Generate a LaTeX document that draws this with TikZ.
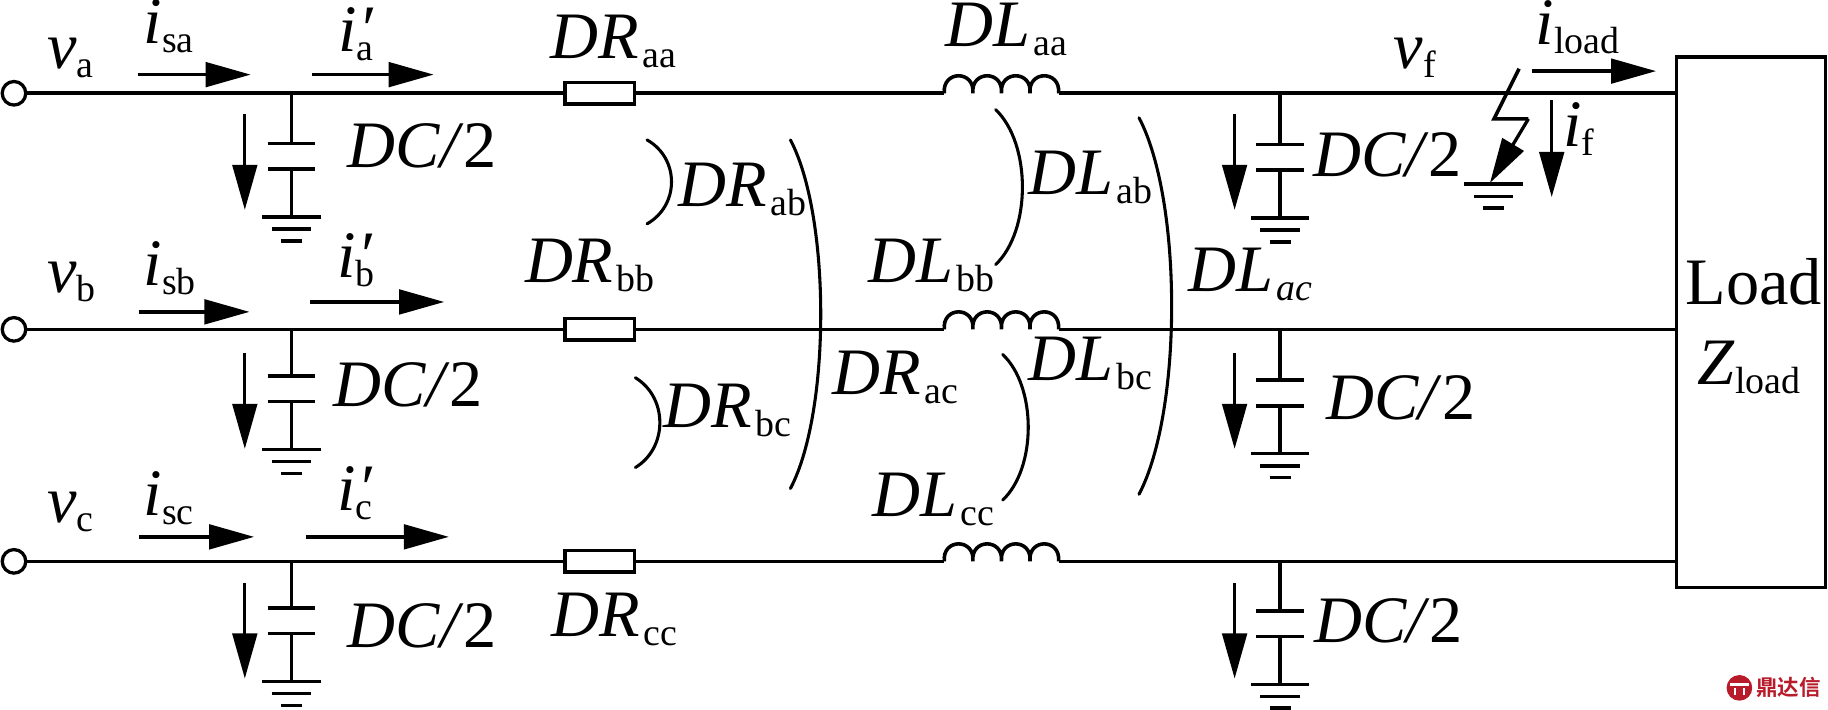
\documentclass[tikz,border=0pt]{standalone}
\usepackage{fontspec}
\setmainfont{Liberation Serif}
\newfontfamily\cjk{Noto Sans CJK SC}[BoldFont={* Bold}]
\usetikzlibrary{arrows.meta}
\definecolor{logored}{HTML}{B81C2B}
\tikzset{
  wire/.style={draw=black, line width=1.75pt},
  bowline/.style={draw=black, line width=1.5pt, line cap=round},
  flow/.style={draw=black, line width=1.6pt, -{Triangle[length=22pt,width=12pt]}},
  term/.style={circle, draw=black, fill=white, line width=1.6pt, inner sep=0pt, minimum size=11.5pt},
  res/.style={rectangle, draw=black, fill=white, line width=1.7pt, inner sep=0pt, minimum width=34pt, minimum height=10.5pt},
  lab/.style={anchor=base west, inner sep=0pt, font=\fontsize{32.4}{34}\selectfont}
}
\newcommand{\Sb}[1]{\raisebox{-4.4pt}{\fontsize{18.5}{19}\selectfont #1}}
\newcommand{\Sy}[2]{\textit{#1}\Sb{#2}}
\newcommand{\Dy}[2]{\textit{#1}\kern1.5pt\Sb{#2}}
\newcommand{\SyP}[1]{\textit{i}\rlap{\kern1pt\textit{′}}\Sb{#1}}
\newcommand{\Half}{\textit{DC/}2}
% #1 = x, #2 = y
\newcommand{\Gnd}[2]{%
  \draw[wire] (#1-25,#2) -- (#1+25,#2);
  \draw[wire] (#1-17,#2+10.5) -- (#1+17,#2+10.5);
  \draw[wire] (#1-9,#2+20.5) -- (#1+9,#2+20.5);
}
% #1 = x, #2 = y of the line, #3 = y the plates hang from, #4 = x of the arrow, #5 = y of the arrow
\newcommand{\Shunt}[5]{%
  \draw[wire] (#1,#2) -- (#1,#3+40);
  \draw[wire] (#1-20.5,#3+40) -- (#1+20.5,#3+40);
  \draw[wire] (#1-20.5,#3+62) -- (#1+20.5,#3+62);
  \draw[wire] (#1,#3+62) -- (#1,#3+103);
  \Gnd{#1}{#3+103}
  \draw[flow] (#4,#5) -- (#4,#5+82);
}
% #1 = x at the ends, #2 = top, #3 = bottom, #4 = bulge
\newcommand{\Bow}[4]{%
  \draw[bowline] (#1,#2) .. controls (#1+1.333*#4,#2+0.22*#3-0.22*#2) and (#1+1.333*#4,#3-0.22*#3+0.22*#2) .. (#1,#3);
}

\begin{document}
\begin{tikzpicture}[x=0.02cm, y=-0.02cm, line cap=butt, line join=miter]
  \useasboundingbox (0,0) rectangle (1568,609);
  \node[draw=black, line width=1.75pt, minimum width=72.8pt, minimum height=259pt, inner sep=0pt] (load) at (1502,276.5) {};
  % the three lines
  \foreach \ph/\yy/\capL/\capR/\arrY in {a/80/83/84/98, b/282.5/282.5/286/303, c/481.5/481.5/484/500} {
    \node[term] (v\ph) at (12,\yy) {};
    \node[res] (R\ph) at (514.5,\yy) {};
    \coordinate (L\ph) at (810,\yy);
    \coordinate (M\ph) at (908,\yy);
    \coordinate (E\ph) at (1437,\yy);
    \draw[wire] (v\ph) -- (R\ph);
    \draw[wire] (R\ph) -- (L\ph);
    \draw[wire] (M\ph) -- (E\ph);
    \draw[wire] (L\ph) .. controls +(-2,-20) and +(2,-20) .. ++(24.5,0)
      .. controls +(-2,-20) and +(2,-20) .. ++(24.5,0)
      .. controls +(-2,-20) and +(2,-20) .. ++(24.5,0)
      .. controls +(-2,-20) and +(2,-20) .. ++(24.5,0);
    \Shunt{250}{\yy}{\capL}{210}{\arrY}
    \Shunt{1098}{\yy}{\capR}{1059}{\arrY}
  }
  % coupling marks
  \Bow{555}{120}{192}{21}
  \Bow{678}{120}{419}{26}
  \Bow{545}{324}{401}{21}
  \Bow{854}{94}{227}{23}
  \Bow{977}{101}{424}{28}
  \Bow{860}{304}{429}{22}
  % fault
  \coordinate (Fa) at (1303,59);
  \coordinate (Fb) at (1281.5,102);
  \coordinate (Fc) at (1311,102);
  \coordinate (Fd) at (1278,157);
  \draw[wire] (Fa) -- (Fb) -- (Fc);
  \draw[flow] (Fc) -- (Fd);
  \Gnd{1281}{158}
  % current arrows
  \draw[flow] (118,64) -- (215,64);
  \draw[flow] (268,64) -- (372,64);
  \draw[flow] (119,267.5) -- (214,267.5);
  \draw[flow] (266,259) -- (381,259);
  \draw[flow] (119.5,460.5) -- (218,460.5);
  \draw[flow] (262.5,460.5) -- (385,460.5);
  \draw[flow] (1314,61) -- (1420.5,61);
  \draw[flow] (1331,86) -- (1331,169);
  % labels
  \node[lab] (lva) at (40,59) {\Sy{v}{a}};
  \node[lab] (lvb) at (40,251) {\Sy{v}{b}};
  \node[lab] (lvc) at (40,448) {\Sy{v}{c}};
  \node[lab] (lisa) at (123,37) {\Sy{i}{sa}};
  \node[lab] (lisb) at (123,245) {\Sy{i}{sb}};
  \node[lab] (lisc) at (123,442.5) {\Sy{i}{sc}};
  \node[lab] (lipa) at (290,44) {\SyP{a}};
  \node[lab] (lipb) at (289,238) {\SyP{b}};
  \node[lab] (lipc) at (289,438) {\SyP{c}};
  \node[lab] (lraa) at (472,50) {\Dy{DR}{aa}};
  \node[lab] (lrbb) at (450,242) {\Dy{DR}{bb}};
  \node[lab] (lrcc) at (473,546) {\Dy{DR}{cc}};
  \node[lab] (lrab) at (582,177) {\Dy{DR}{ab}};
  \node[lab] (lrac) at (714,338) {\Dy{DR}{ac}};
  \node[lab] (lrbc) at (569,367) {\Dy{DR}{bc}};
  \node[lab] (llaa) at (810.5,39.5) {\Dy{DL}{aa}};
  \node[lab] (llbb) at (745,242) {\Dy{DL}{bb}};
  \node[lab] (llcc) at (748,443) {\Dy{DL}{cc}};
  \node[lab] (llab) at (882,167) {\Dy{DL}{ab}};
  \node[lab] (llbc) at (882,326) {\Dy{DL}{bc}};
  \node[lab] (llac) at (1019,250) {\Dy{DL}{\textit{ac}}};
  \node[lab] (lca) at (298,144) {\Half};
  \node[lab] (lcb) at (286,349) {\Half};
  \node[lab] (lcc) at (298,555) {\Half};
  \node[lab] (lcf) at (1126,151.5) {\Half};
  \node[lab] (lcg) at (1137.5,360) {\Half};
  \node[lab] (lch) at (1127,551) {\Half};
  \node[lab] (lvf) at (1195,58.5) {\Sy{v}{f}};
  \node[lab] (lil) at (1317,38) {\Sy{i}{load}};
  \node[lab] (lif) at (1340.5,126) {\Sy{i}{f}};
  \node[lab] (lload) at (1445.5,261.5) {Load};
  \node[lab] (lz) at (1456,330) {\Sy{Z}{load}};
  % logo in the corner
  \fill[logored] (1492,590) circle (11);
  \fill[white] (1484,586) rectangle (1500,588);
  \fill[white] (1487,590) rectangle (1489,596);
  \fill[white] (1495,590) rectangle (1497,596);
  \node[anchor=west, inner sep=0pt, text=logored, font=\cjk\bfseries\fontsize{10.5}{11}\selectfont] (lmark) at (1506,590) {鼎达信};
\end{tikzpicture}
\end{document}
